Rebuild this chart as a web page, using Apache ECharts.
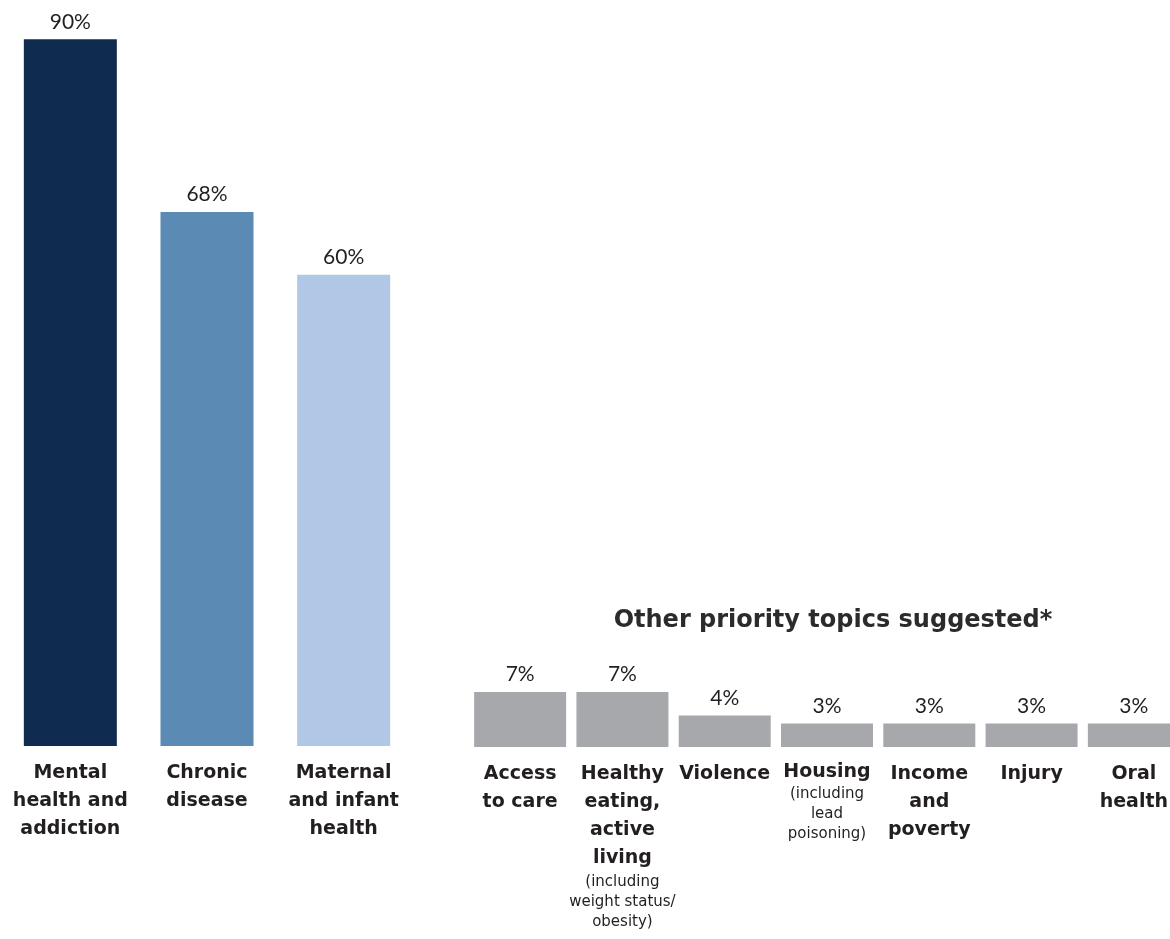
<!DOCTYPE html>
<html>
<head>
<meta charset="utf-8">
<script src="https://cdn.jsdelivr.net/npm/echarts@6/dist/echarts.min.js"></script>
<style>
  html, body { margin: 0; padding: 0; background: #ffffff; }
  #chart { width: 1170px; height: 939px; }
</style>
</head>
<body>
<div id="chart"></div>
<script>
// Top three priority topics
const mainCategories = ['Mental\nhealth and\naddiction', 'Chronic\ndisease', 'Maternal\nand infant\nhealth'];
const mainValues = [90, 68, 60];
const mainColors = ['#0F2B4F', '#5B8AB5', '#B1C7E6'];

// Other suggested topics (title line(s) plus optional note)
const otherCategories = ['Access\nto care', 'Healthy\neating,\nactive\nliving', 'Violence', 'Housing', 'Income\nand\npoverty', 'Injury', 'Oral\nhealth'];
const otherNotes = ['', '(including\nweight status/\nobesity)', '', '(including\nlead\npoisoning)', '', '', ''];
const otherValues = [7, 7, 4, 3, 3, 3, 3];
const otherColor = '#A7A8AB';

const FONT = 'DejaVu Sans';
const TEXT = '#231F20';

// Bold topic lines, then the smaller note lines; a one-line topic sits closer to its note
function richLabel(name, note) {
  const parts = name.split('\n');
  const boldStyle = note && parts.length === 1 ? 'bs' : 'b';
  const lines = parts.map(l => '{' + boldStyle + '|' + l + '}');
  if (note) note.split('\n').forEach(l => lines.push('{n|' + l + '}'));
  return lines.join('\n');
}

const chart = echarts.init(document.getElementById('chart'), null, { renderer: 'canvas' });

const axisRich = {
  b: { fontFamily: FONT, fontWeight: 'bold', fontSize: 19, lineHeight: 28, color: TEXT, align: 'center' },
  bs: { fontFamily: FONT, fontWeight: 'bold', fontSize: 19, lineHeight: 24, color: TEXT, align: 'center' },
  n: { fontFamily: FONT, fontWeight: 'normal', fontSize: 15, lineHeight: 20, color: TEXT, align: 'center' }
};

const valueLabel = {
  show: true,
  position: 'top',
  distance: 7,
  formatter: p => p.value + '%',
  fontFamily: 'Lato',
  fontWeight: 'normal',
  fontSize: 21,
  color: TEXT
};

chart.setOption({
  animation: false,
  title: {
    text: 'Other priority topics suggested*',
    left: 828,
    top: 604,
    textAlign: 'center',
    textStyle: { fontFamily: FONT, fontWeight: 'bold', fontSize: 24, color: '#2B2B2B' }
  },
  grid: [
    { left: 2, width: 410, top: 0, height: 746, outerBoundsMode: 'none' },
    { left: 469, width: 716, top: 0, height: 747, outerBoundsMode: 'none' }
  ],
  xAxis: [
    {
      gridIndex: 0, type: 'category', data: mainCategories,
      axisLine: { show: false }, axisTick: { show: false },
      axisLabel: {
        interval: 0, margin: 13,
        formatter: v => richLabel(v, ''),
        rich: axisRich
      }
    },
    {
      gridIndex: 1, type: 'category', data: otherCategories,
      axisLine: { show: false }, axisTick: { show: false },
      axisLabel: {
        interval: 0, margin: 13,
        formatter: (v, i) => richLabel(v, otherNotes[i]),
        rich: axisRich
      }
    }
  ],
  yAxis: [
    { gridIndex: 0, type: 'value', min: 0, max: 95, show: false, splitLine: { show: false } },
    { gridIndex: 1, type: 'value', min: 0, max: 95, show: false, splitLine: { show: false } }
  ],
  series: [
    {
      type: 'bar', xAxisIndex: 0, yAxisIndex: 0, barWidth: 93,
      data: mainValues.map((v, i) => ({ value: v, itemStyle: { color: mainColors[i] } })),
      label: valueLabel
    },
    {
      type: 'bar', xAxisIndex: 1, yAxisIndex: 1, barWidth: 92,
      data: otherValues,
      itemStyle: { color: otherColor },
      label: valueLabel
    }
  ]
});
</script>
</body>
</html>
